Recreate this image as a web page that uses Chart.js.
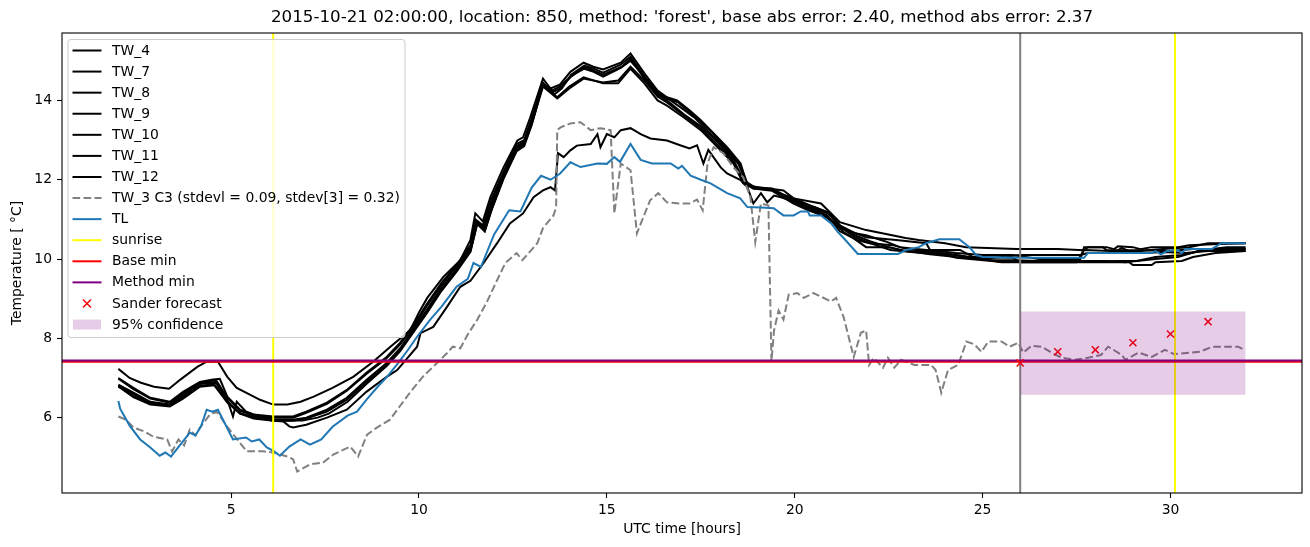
<!DOCTYPE html>
<html>
<head>
<meta charset="utf-8">
<script src="https://cdn.jsdelivr.net/npm/chart.js@4.4.0/dist/chart.umd.min.js"></script>
<style>
  body { margin: 0; background: #fff; }
  canvas { display: block; }
</style>
</head>
<body>
<canvas id="tempChart" width="1310" height="547"></canvas>
<script>
// Values, as [UTC hour, temperature] pairs.
const tw4 = [[2.0,7.23],[2.3,7.0],[2.6,6.88],[2.95,6.78],[3.35,6.73],[3.65,6.96],[4.1,7.28],[4.35,7.41],[4.65,7.41],[4.9,7.03],[5.15,6.75],[5.5,6.58],[5.77,6.45],[6.12,6.33],[6.5,6.33],[6.85,6.4],[7.2,6.53],[7.7,6.75],[8.25,7.03],[8.78,7.41],[9.24,7.79],[9.77,8.21],[10.0,8.65],[10.22,9.02],[10.65,9.55],[11.1,9.97],[11.37,10.48],[11.5,11.15],[11.7,10.95],[11.9,11.56],[12.25,12.31],[12.62,12.99],[12.77,13.07],[12.96,13.57],[13.3,14.55],[13.5,14.3],[13.75,14.4],[14.03,14.72],[14.38,14.95],[14.64,14.85],[14.9,14.78],[15.37,14.95],[15.63,15.18],[16.0,14.68],[16.35,14.25],[16.6,14.08],[16.87,14.0],[17.2,13.75],[17.5,13.5],[17.76,13.25],[18.2,12.82],[18.56,12.41],[18.74,11.85],[19.7,11.73],[19.97,11.53],[20.7,11.4],[20.97,11.15],[21.2,10.93],[21.9,10.73],[22.33,10.65],[22.95,10.53],[23.3,10.48],[24.0,10.4],[24.56,10.3],[25.9,10.25],[27.0,10.25],[27.7,10.22],[27.8,10.3],[28.2,10.3],[28.3,10.22],[29.5,10.22],[30.0,10.2],[30.6,10.25],[31.2,10.25],[32.0,10.25]];
const tw7 = [[2.0,7.0],[2.4,6.75],[2.85,6.5],[3.37,6.4],[3.72,6.65],[4.17,6.9],[4.52,6.96],[4.7,6.98],[4.9,6.53],[5.24,6.2],[5.59,6.08],[6.12,6.03],[6.65,6.03],[7.0,6.15],[7.55,6.38],[8.08,6.7],[8.6,7.13],[9.14,7.53],[9.5,7.89],[9.9,8.4],[10.2,8.85],[10.6,9.4],[11.0,9.85],[11.37,10.35],[11.5,11.0],[11.7,10.85],[11.9,11.45],[12.25,12.2],[12.6,12.9],[12.8,13.0],[13.0,13.55],[13.3,14.45],[13.55,14.2],[13.75,14.3],[14.05,14.6],[14.4,14.85],[14.65,14.75],[14.9,14.65],[15.4,14.85],[15.63,15.05],[16.0,14.55],[16.35,14.15],[16.6,14.0],[17.05,13.65],[17.5,13.35],[17.95,12.95],[18.37,12.5],[18.63,12.0],[18.9,11.78],[19.4,11.75],[19.97,11.5],[20.35,11.28],[20.87,11.03],[21.2,10.8],[21.9,10.55],[22.7,10.48],[23.5,10.4],[23.6,10.23],[24.4,10.23],[24.75,10.05],[25.8,10.03],[26.0,9.92],[27.5,9.92],[27.7,10.23],[28.4,10.2],[29.2,10.2],[29.8,10.25],[30.5,10.3],[31.0,10.4],[32.0,10.4]];
const tw8 = [[2.0,6.98],[2.4,6.72],[2.85,6.48],[3.37,6.38],[3.72,6.62],[4.17,6.88],[4.6,6.95],[4.9,6.5],[5.24,6.18],[5.6,6.05],[6.12,6.0],[6.65,6.0],[7.0,6.12],[7.55,6.35],[8.08,6.68],[8.6,7.1],[9.14,7.5],[9.5,7.85],[9.9,8.35],[10.2,8.8],[10.6,9.35],[11.0,9.82],[11.37,10.3],[11.52,10.95],[11.72,10.8],[11.92,11.4],[12.25,12.15],[12.6,12.85],[12.8,12.95],[13.0,13.5],[13.3,14.38],[13.68,14.08],[14.0,14.35],[14.38,14.58],[14.9,14.43],[15.3,14.43],[15.63,14.8],[16.0,14.43],[16.35,14.0],[16.6,13.87],[17.05,13.57],[17.5,13.25],[17.95,12.82],[18.37,12.41],[18.63,11.91],[18.9,11.78],[19.4,11.72],[19.97,11.4],[20.36,11.23],[20.87,11.06],[21.3,10.68],[21.65,10.48],[22.0,10.4],[22.55,10.23],[23.1,10.18],[24.05,10.1],[24.3,10.03],[25.45,9.93],[26.0,9.93],[27.0,9.93],[28.0,9.93],[28.6,9.95],[29.1,9.95],[29.6,10.05],[30.3,10.1],[30.8,10.2],[31.4,10.25],[32.0,10.25]];
const tw9 = [[2.0,6.83],[2.4,6.63],[2.85,6.4],[3.37,6.33],[3.72,6.58],[4.17,6.88],[4.6,6.9],[4.9,6.45],[5.05,6.03],[5.15,6.4],[5.4,6.15],[5.6,6.08],[6.12,5.95],[6.65,5.95],[7.0,6.0],[7.55,6.2],[8.08,6.5],[8.6,6.95],[9.14,7.38],[9.5,7.75],[9.9,8.3],[10.2,8.7],[10.6,9.28],[11.0,9.75],[11.37,10.25],[11.53,10.95],[11.73,10.75],[11.93,11.35],[12.25,12.1],[12.6,12.8],[12.8,12.92],[13.0,13.45],[13.3,14.4],[13.6,14.15],[13.8,14.3],[14.05,14.65],[14.4,14.88],[14.65,14.8],[14.9,14.7],[15.37,14.9],[15.63,15.1],[16.0,14.6],[16.35,14.2],[16.6,14.05],[16.9,13.95],[17.2,13.7],[17.5,13.45],[17.8,13.2],[18.2,12.78],[18.56,12.35],[18.74,11.9],[18.95,11.8],[19.4,11.78],[19.7,11.62],[20.0,11.52],[20.4,11.35],[20.9,11.18],[21.2,10.85],[21.6,10.65],[21.9,10.6],[22.4,10.45],[22.8,10.3],[23.3,10.25],[23.8,10.2],[24.3,10.15],[25.0,10.1],[25.8,10.1],[26.5,10.0],[27.6,10.0],[27.7,10.3],[28.3,10.3],[28.5,10.25],[28.6,10.32],[29.0,10.3],[29.2,10.25],[29.5,10.3],[30.2,10.3],[30.5,10.35],[31.3,10.38],[32.0,10.4]];
const tw10 = [[2.0,6.8],[2.4,6.6],[2.85,6.38],[3.37,6.3],[3.72,6.55],[4.17,6.85],[4.6,6.88],[4.9,6.42],[5.24,6.1],[5.6,6.02],[6.12,5.92],[6.65,5.92],[7.0,5.98],[7.55,6.15],[8.08,6.45],[8.6,6.9],[9.14,7.33],[9.5,7.7],[9.9,8.25],[10.2,8.65],[10.6,9.22],[11.0,9.7],[11.37,10.2],[11.55,10.9],[11.75,10.7],[11.95,11.3],[12.25,12.05],[12.6,12.75],[12.8,12.88],[13.0,13.4],[13.3,14.35],[13.68,14.05],[14.0,14.3],[14.38,14.55],[14.9,14.45],[15.3,14.5],[15.63,14.85],[16.0,14.5],[16.35,14.1],[16.6,13.95],[17.05,13.62],[17.5,13.3],[17.95,12.88],[18.37,12.45],[18.63,11.95],[18.9,11.8],[19.4,11.75],[19.97,11.45],[20.36,11.28],[20.87,11.1],[21.2,10.7],[21.57,10.52],[21.9,10.3],[22.5,10.3],[22.9,10.2],[23.6,10.18],[24.25,10.1],[25.0,10.0],[25.5,9.92],[26.5,9.92],[28.2,9.92],[28.9,9.92],[29.0,9.85],[29.5,9.85],[29.6,9.92],[30.3,9.95],[30.6,10.05],[31.2,10.15],[32.0,10.2]];
const tw11 = [[2.0,6.79],[2.4,6.55],[2.85,6.35],[3.37,6.3],[3.72,6.5],[4.17,6.8],[4.55,6.85],[4.9,6.4],[5.24,6.12],[5.6,6.0],[6.12,5.95],[6.5,5.93],[6.9,5.93],[7.3,6.0],[7.6,6.1],[8.1,6.4],[8.6,6.85],[9.14,7.3],[9.5,7.68],[9.9,8.22],[10.2,8.62],[10.6,9.2],[11.0,9.68],[11.37,10.18],[11.55,10.88],[11.75,10.7],[11.95,11.28],[12.25,12.02],[12.6,12.72],[12.8,12.85],[13.0,13.38],[13.3,14.4],[13.55,14.25],[13.75,14.35],[14.05,14.62],[14.4,14.8],[14.65,14.72],[14.9,14.6],[15.37,14.82],[15.63,15.0],[16.0,14.6],[16.35,14.18],[16.7,14.0],[17.0,13.8],[17.35,13.55],[17.7,13.22],[18.1,12.85],[18.5,12.4],[18.7,11.95],[18.95,11.8],[19.4,11.75],[19.8,11.58],[20.2,11.42],[20.6,11.28],[20.9,11.15],[21.3,10.75],[21.6,10.55],[22.0,10.4],[22.6,10.35],[23.0,10.25],[23.7,10.18],[24.3,10.1],[25.2,9.97],[25.8,9.97],[26.5,9.95],[27.5,9.95],[28.3,9.95],[28.8,9.92],[29.6,10.0],[30.2,10.05],[30.8,10.22],[31.5,10.3],[32.0,10.3]];
const tw12 = [[2.0,6.79],[2.4,6.52],[2.85,6.33],[3.37,6.28],[3.72,6.48],[4.17,6.78],[4.55,6.82],[4.9,6.38],[5.24,6.1],[5.6,5.98],[6.12,5.92],[6.4,5.9],[6.55,5.78],[6.65,5.75],[7.0,5.82],[7.55,6.0],[8.08,6.2],[8.6,6.65],[9.14,7.03],[9.42,7.2],[9.95,7.79],[10.04,8.13],[10.38,8.29],[10.75,8.8],[11.1,9.3],[11.37,9.45],[11.72,9.9],[12.08,10.4],[12.42,10.9],[12.77,11.15],[13.05,11.56],[13.3,11.73],[13.5,11.81],[13.62,11.73],[13.7,12.67],[13.85,12.57],[14.03,12.74],[14.2,12.86],[14.57,12.9],[14.75,13.15],[14.83,12.82],[15.0,13.15],[15.2,13.07],[15.37,13.25],[15.63,13.3],[15.9,13.15],[16.16,13.04],[16.6,12.99],[16.95,12.87],[17.2,12.79],[17.4,12.87],[17.57,12.41],[17.7,12.75],[18.03,12.31],[18.2,12.16],[18.56,11.99],[18.74,11.81],[18.9,11.4],[19.1,11.66],[19.27,11.43],[19.45,11.6],[19.63,11.56],[20.0,11.45],[20.4,11.3],[20.9,11.15],[21.2,10.8],[21.6,10.6],[22.0,10.45],[22.5,10.3],[23.0,10.2],[23.6,10.12],[24.3,10.05],[25.0,10.0],[26.0,10.1],[27.6,10.1],[27.8,10.15],[28.5,10.15],[28.7,10.28],[28.9,10.2],[29.3,10.15],[29.8,10.18],[30.4,10.15],[31.0,10.2],[32.0,10.2]];
const tw3 = [[2.0,6.03],[2.2,5.95],[2.4,5.75],[2.7,5.65],[2.93,5.52],[3.3,5.45],[3.43,5.15],[3.6,5.45],[3.75,5.3],[3.9,5.7],[4.05,5.55],[4.17,5.75],[4.44,6.08],[4.62,6.15],[4.9,5.77],[5.16,5.45],[5.42,5.15],[5.85,5.15],[6.12,5.12],[6.5,5.02],[6.65,4.95],[6.76,4.64],[7.1,4.82],[7.45,4.87],[7.72,5.07],[8.17,5.27],[8.38,5.02],[8.62,5.57],[8.88,5.75],[9.23,5.95],[9.5,6.3],[9.76,6.63],[10.1,7.03],[10.57,7.46],[10.75,7.63],[10.9,7.79],[11.1,7.75],[11.3,8.1],[11.55,8.47],[11.8,8.9],[12.08,9.47],[12.3,9.9],[12.48,10.05],[12.6,10.15],[12.75,9.97],[13.15,10.4],[13.3,10.78],[13.58,11.1],[13.65,11.3],[13.68,13.25],[13.77,13.32],[14.03,13.42],[14.3,13.45],[14.57,13.25],[14.83,13.3],[15.1,13.25],[15.2,11.15],[15.37,12.41],[15.63,12.24],[15.8,10.65],[16.15,11.48],[16.37,11.66],[16.6,11.43],[16.95,11.4],[17.2,11.4],[17.4,11.5],[17.55,11.23],[17.68,12.41],[17.84,12.82],[18.1,12.67],[18.37,12.31],[18.63,12.06],[18.82,11.56],[18.95,10.43],[19.1,11.4],[19.3,11.35],[19.38,7.42],[19.45,8.2],[19.57,8.7],[19.7,8.47],[19.84,9.1],[20.07,9.14],[20.24,9.02],[20.5,9.14],[20.7,9.05],[20.97,8.93],[21.1,9.02],[21.3,8.54],[21.57,7.53],[21.76,8.14],[21.9,8.2],[21.98,7.33],[22.1,7.51],[22.35,7.26],[22.48,7.51],[22.65,7.26],[22.83,7.46],[23.18,7.33],[23.63,7.33],[23.75,7.2],[23.9,6.63],[24.08,7.2],[24.35,7.33],[24.57,7.92],[24.78,7.85],[24.97,7.66],[25.15,7.92],[25.5,7.92],[25.72,7.79],[25.95,7.89],[26.08,7.64],[26.3,7.81],[26.57,7.79],[26.83,7.64],[27.1,7.51],[27.45,7.46],[27.8,7.51],[28.15,7.58],[28.34,7.79],[28.5,7.7],[28.7,7.58],[28.8,7.46],[29.15,7.64],[29.5,7.53],[29.85,7.71],[30.1,7.6],[30.5,7.64],[30.77,7.66],[31.12,7.79],[31.46,7.79],[31.8,7.79],[31.96,7.71]];
const tl = [[2.0,6.42],[2.05,6.22],[2.3,5.8],[2.58,5.45],[2.85,5.25],[3.1,5.04],[3.25,5.12],[3.4,5.02],[3.65,5.32],[3.9,5.62],[4.05,5.55],[4.2,5.78],[4.35,6.2],[4.5,6.15],[4.65,6.2],[5.05,5.45],[5.4,5.5],[5.55,5.4],[5.75,5.45],[5.95,5.25],[6.15,5.15],[6.3,5.04],[6.55,5.27],[6.85,5.45],[7.1,5.32],[7.4,5.45],[7.7,5.77],[8.1,6.05],[8.35,6.15],[8.6,6.45],[8.9,6.78],[9.15,7.03],[9.45,7.38],[9.7,7.7],[9.95,8.04],[10.3,8.47],[10.6,8.8],[11.0,9.3],[11.3,9.5],[11.45,9.9],[11.65,9.8],[12.0,10.62],[12.4,11.23],[12.7,11.2],[13.0,11.8],[13.25,12.1],[13.5,12.0],[13.75,12.15],[14.03,12.44],[14.3,12.32],[14.75,12.41],[15.0,12.4],[15.2,12.57],[15.35,12.45],[15.63,12.9],[15.9,12.5],[16.2,12.41],[16.7,12.41],[16.9,12.28],[17.0,12.35],[17.23,12.1],[17.5,12.0],[17.76,11.91],[18.2,11.66],[18.55,11.53],[18.74,11.31],[19.1,11.3],[19.44,11.28],[19.7,11.1],[19.97,11.1],[20.16,11.2],[20.35,11.2],[20.4,11.1],[20.7,11.1],[20.97,10.9],[21.15,10.68],[21.3,10.53],[21.68,10.13],[22.75,10.13],[22.97,10.23],[23.3,10.3],[23.5,10.4],[23.85,10.5],[24.38,10.5],[24.65,10.3],[24.83,10.1],[25.0,10.05],[26.0,10.03],[27.7,10.03],[27.8,10.15],[29.5,10.15],[29.6,10.2],[29.75,10.12],[29.9,10.2],[30.2,10.22],[30.3,10.15],[30.4,10.25],[31.1,10.25],[31.35,10.4],[32.0,10.4]];

const sunriseHours = [6.12, 30.12];
const forecastStartHour = 26;
const baseMin = 7.41;
const methodMin = 7.44;
const sanderHours = [26, 27, 28, 29, 30, 31];
const sanderTemps = [7.38, 7.66, 7.71, 7.89, 8.11, 8.42];
const bandHours = [26, 32];
const bandLow = 6.58;
const bandHigh = 8.68;

const xTicks = [5, 10, 15, 20, 25, 30];
const yTicks = [6, 8, 10, 12, 14];
const xRange = [0.5, 33.5];
const yRange = [4.1, 15.7];

const titleText = "2015-10-21 02:00:00, location: 850, method: 'forest', base abs error: 2.40, method abs error: 2.37";
const FONT = "'DejaVu Sans', sans-serif";

const pts = arr => arr.map(p => ({ x: p[0], y: p[1] }));

// matplotlib-ish drawing order: later entries end up on top
const plotted = [];
function addLine(label, data, color, extra) {
    plotted.push(Object.assign({
        label: label,
        data: data,
        borderColor: color,
        backgroundColor: color,
        borderWidth: 2,
        pointRadius: 0,
        tension: 0,
        fill: false
    }, extra || {}));
}

addLine('TW_4', pts(tw4), '#000000');
addLine('TW_7', pts(tw7), '#000000');
addLine('TW_8', pts(tw8), '#000000');
addLine('TW_9', pts(tw9), '#000000');
addLine('TW_10', pts(tw10), '#000000');
addLine('TW_11', pts(tw11), '#000000');
addLine('TW_12', pts(tw12), '#000000');
addLine('TW_3 C3', pts(tw3), '#808080', { borderDash: [7.7, 3.3] });
addLine('TL', pts(tl), '#1f77b4');
sunriseHours.forEach(h => addLine('sunrise', [{ x: h, y: yRange[0] }, { x: h, y: yRange[1] }], '#ffff00', { borderWidth: 2 }));
addLine('now', [{ x: forecastStartHour, y: yRange[0] }, { x: forecastStartHour, y: yRange[1] }], '#808080');
addLine('Base min', [{ x: xRange[0], y: baseMin }, { x: xRange[1], y: baseMin }], '#ff0000');
addLine('Method min', [{ x: xRange[0], y: methodMin }, { x: xRange[1], y: methodMin }], '#800080');
addLine('Sander forecast', sanderHours.map((h, i) => ({ x: h, y: sanderTemps[i] })), '#ff0000', {
    showLine: false, pointStyle: 'crossRot', pointRadius: 5, borderWidth: 1.5
});
addLine('95% confidence', bandHours.map(h => ({ x: h, y: bandHigh })), 'rgba(128,0,128,0.2)', {
    borderWidth: 0, fill: { value: bandLow }
});
plotted.forEach((d, i) => { d.order = plotted.length - i; });

// legend rows drawn by hand to look like the matplotlib box
const legendRows = [
    { text: 'TW_4', kind: 'line', color: '#000' },
    { text: 'TW_7', kind: 'line', color: '#000' },
    { text: 'TW_8', kind: 'line', color: '#000' },
    { text: 'TW_9', kind: 'line', color: '#000' },
    { text: 'TW_10', kind: 'line', color: '#000' },
    { text: 'TW_11', kind: 'line', color: '#000' },
    { text: 'TW_12', kind: 'line', color: '#000' },
    { text: 'TW_3 C3 (stdevl = 0.09, stdev[3] = 0.32)', kind: 'dash', color: '#808080' },
    { text: 'TL', kind: 'line', color: '#1f77b4' },
    { text: 'sunrise', kind: 'line', color: '#ffff00' },
    { text: 'Base min', kind: 'line', color: '#ff0000' },
    { text: 'Method min', kind: 'line', color: '#800080' },
    { text: 'Sander forecast', kind: 'cross', color: '#ff0000' },
    { text: '95% confidence', kind: 'patch', color: 'rgba(128,0,128,0.2)' }
];

const decorPlugin = {
    id: 'decor',
    afterDatasetsDraw(chart) {
        const ctx = chart.ctx;
        const a = chart.chartArea;
        ctx.save();
        // frame
        ctx.strokeStyle = '#000';
        ctx.lineWidth = 1.1;
        ctx.strokeRect(a.left, a.top, a.right - a.left, a.bottom - a.top);

        // legend box
        const bx = 68, by = 39.5, bw = 337, bh = 298;
        ctx.beginPath();
        ctx.roundRect(bx, by, bw, bh, 3);
        ctx.fillStyle = 'rgba(255,255,255,0.8)';
        ctx.fill();
        ctx.strokeStyle = '#cccccc';
        ctx.lineWidth = 1;
        ctx.stroke();

        ctx.font = '13.9px ' + FONT;
        ctx.textBaseline = 'middle';
        ctx.textAlign = 'left';
        legendRows.forEach((r, i) => {
            const y = 50.5 + i * 21.08;
            ctx.strokeStyle = r.color;
            ctx.fillStyle = r.color;
            if (r.kind === 'line' || r.kind === 'dash') {
                ctx.lineWidth = 2;
                ctx.setLineDash(r.kind === 'dash' ? [7.7, 3.3] : []);
                ctx.beginPath();
                ctx.moveTo(72.5, y);
                ctx.lineTo(101.5, y);
                ctx.stroke();
                ctx.setLineDash([]);
            } else if (r.kind === 'cross') {
                ctx.lineWidth = 1.5;
                ctx.beginPath();
                ctx.moveTo(83, y - 4); ctx.lineTo(91, y + 4);
                ctx.moveTo(83, y + 4); ctx.lineTo(91, y - 4);
                ctx.stroke();
            } else {
                ctx.fillRect(73, y - 5, 28, 10);
            }
            ctx.fillStyle = '#000';
            ctx.fillText(r.text, 112, y + 0.5);
        });

        // title and axis labels
        ctx.fillStyle = '#000';
        ctx.textAlign = 'center';
        ctx.font = '16.7px ' + FONT;
        ctx.fillText(titleText, (a.left + a.right) / 2, 17.5);
        ctx.font = '13.9px ' + FONT;
        ctx.fillText('UTC time [hours]', (a.left + a.right) / 2, 529.5);
        ctx.translate(17.5, (a.top + a.bottom) / 2);
        ctx.rotate(-Math.PI / 2);
        ctx.fillText('Temperature [ \u00b0C]', 0, 0);
        ctx.restore();
    }
};

const tickFont = { family: FONT, size: 13.9 };

new Chart(document.getElementById('tempChart'), {
    type: 'line',
    data: { datasets: plotted },
    options: {
        responsive: false,
        animation: false,
        events: [],
        layout: { padding: { top: 33, right: 8, left: 0, bottom: 0 } },
        plugins: { legend: { display: false }, tooltip: { enabled: false } },
        scales: {
            x: {
                type: 'linear',
                min: xRange[0],
                max: xRange[1],
                afterBuildTicks: s => { s.ticks = xTicks.map(v => ({ value: v })); },
                afterFit: s => { s.height = 54; },
                ticks: { font: tickFont, color: '#000', padding: 4, maxRotation: 0, autoSkip: false },
                grid: { drawOnChartArea: false, drawTicks: true, tickLength: 5, tickColor: '#000', tickWidth: 1.1 },
                border: { display: false }
            },
            y: {
                min: yRange[0],
                max: yRange[1],
                afterBuildTicks: s => { s.ticks = yTicks.map(v => ({ value: v })); },
                afterFit: s => { s.width = 62; },
                ticks: { font: tickFont, color: '#000', padding: 5, autoSkip: false },
                grid: { drawOnChartArea: false, drawTicks: true, tickLength: 5, tickColor: '#000', tickWidth: 1.1 },
                border: { display: false }
            }
        }
    },
    plugins: [decorPlugin]
});
</script>
</body>
</html>
